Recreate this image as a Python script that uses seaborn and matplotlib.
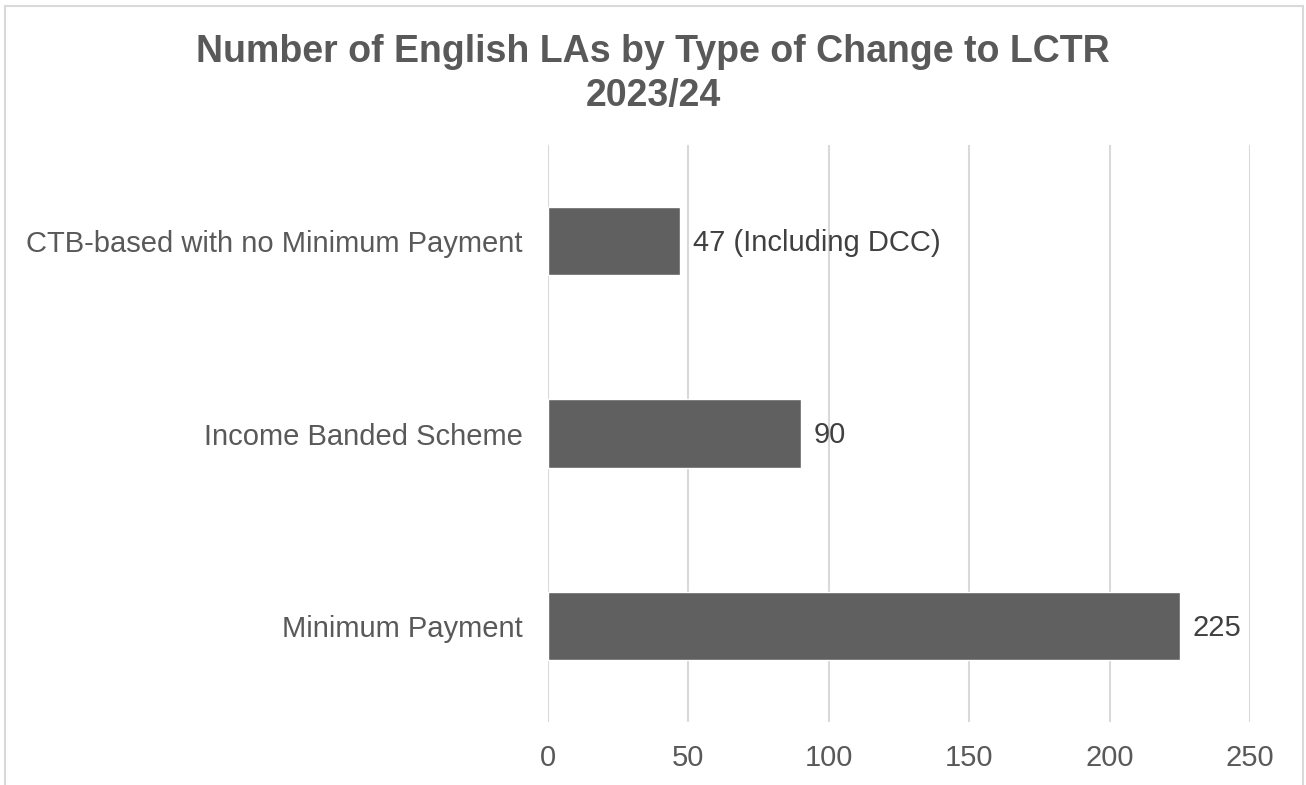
import matplotlib
matplotlib.use("Agg")
import matplotlib.pyplot as plt
import seaborn as sns
import pandas as pd
from matplotlib.patches import Rectangle

categories = ["CTB-based with no Minimum Payment", "Income Banded Scheme", "Minimum Payment"]
values = [47, 90, 225]
labels = ["47 (Including DCC)", "90", "225"]
ticks = [0, 50, 100, 150, 200, 250]

sns.set_theme(style="white")
plt.rcParams['font.family'] = ['Liberation Sans', 'DejaVu Sans']

df = pd.DataFrame({"category": categories, "value": values})

fig = plt.figure(figsize=(13.06, 7.85), dpi=100)
ax = fig.add_axes([548 / 1306, 63 / 785, 702 / 1306, 577 / 785])

sns.barplot(data=df, y="category", x="value", color="#606060", width=0.355,
            saturation=1, ax=ax, zorder=3)

for i, (v, lab) in enumerate(zip(values, labels)):
    ax.text(v + 4.6, i + 0.01, lab, va="center", ha="left", fontsize=21, color="#404040")

ax.set_xlim(0, 250)
ax.set_xticks(ticks)
ax.set_xticklabels([str(t) for t in ticks])
ax.xaxis.grid(True, color="#d9d9d9", linewidth=1.5, zorder=0)
ax.yaxis.grid(False)
for s in ax.spines.values():
    s.set_visible(False)
ax.set_xlabel("")
ax.set_ylabel("")
ax.tick_params(axis="x", labelsize=21, colors="#595959", length=0, pad=16)
ax.tick_params(axis="y", labelsize=21, colors="#595959", length=0, pad=18)

fig.text(0.5, 1 - 74 / 785, "Number of English LAs by Type of Change to LCTR\n2023/24",
         ha="center", va="center", fontsize=27, fontweight="bold", color="#595959",
         linespacing=1.3)

fig.patches.append(Rectangle((5 / 1306, -0.1), 1298 / 1306, 0.1 + 779 / 785,
                             transform=fig.transFigure, fill=False,
                             edgecolor="#d9d9d9", linewidth=1.5))

fig.savefig("out.png", dpi=100)
